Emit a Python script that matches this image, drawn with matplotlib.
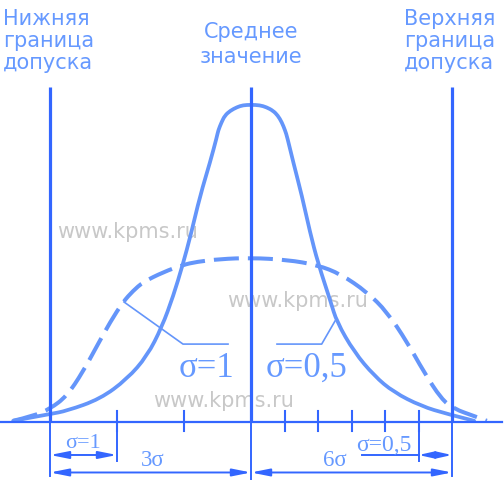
import matplotlib
matplotlib.use("Agg")
import matplotlib.pyplot as plt
from matplotlib.path import Path
from matplotlib.patches import PathPatch
import numpy as np

plt.rcParams['lines.scale_dashes'] = False

# ---------------- data (x in units of sigma=1, y = density) ----------------
LIMITS_X = [-3.0, 3.0]          # lower / upper tolerance limits
MEAN_X = 0.0
TICKS_S1 = [-2.0, -1.0]          # sigma = 1 steps
TICKS_S05 = [0.5, 1.0, 1.5, 2.0, 2.5]  # sigma = 0.5 steps

# solid curve: sigma = 0.5 (traced)
S05_X = [-3.55, -3.00, -2.75, -2.25, -1.85, -1.55, -1.33, -1.16, -1.02, -0.90,
         -0.76, -0.61, -0.51, -0.49, -0.44, -0.39, -0.31, -0.21, -0.12, 0.00,
         0.13, 0.23, 0.33, 0.40, 0.46, 0.51, 0.54, 0.63, 0.76, 0.88,
         1.00, 1.19, 1.28, 1.54, 1.84, 2.13, 2.54, 2.93, 3.33]
S05_Y = [0.003, 0.020, 0.028, 0.058, 0.108, 0.166, 0.239, 0.317, 0.395, 0.470,
         0.569, 0.654, 0.717, 0.733, 0.754, 0.771, 0.783, 0.792, 0.797, 0.798,
         0.797, 0.792, 0.783, 0.771, 0.754, 0.733, 0.717, 0.654, 0.569, 0.478,
         0.400, 0.302, 0.252, 0.176, 0.116, 0.075, 0.040, 0.020, 0.003]

# dashed curve: sigma = 1 (traced)
S1_X = [-3.55, -3.25, -3.00, -2.75, -2.51, -2.30, -2.10, -1.91, -1.76, -1.61,
        -1.31, -1.02, -0.81, -0.46, 0.00, 0.54, 0.99, 1.34, 1.73, 2.03,
        2.33, 2.58, 2.84, 3.03, 3.33, 3.52]
S1_Y = [0.003, 0.015, 0.033, 0.065, 0.126, 0.191, 0.252, 0.302, 0.330, 0.352,
        0.377, 0.395, 0.403, 0.410, 0.413, 0.408, 0.395, 0.372, 0.327, 0.277,
        0.201, 0.126, 0.058, 0.033, 0.015, 0.003]

TOP_LEFT = ["Нижняя", "граница", "допуска"]
TOP_MID = ["Среднее", "значение"]
TOP_RIGHT = ["Верхняя", "граница", "допуска"]
WATERMARK = "www.kpms.ru"
LBL_S1 = "σ=1"
LBL_S05 = "σ=0,5"
LBL_3S = "3σ"
LBL_6S = "6σ"

# ---------------- style ----------------
CURVE = '#6495fa'
LINE = '#3366ff'
TEXT = '#6699ff'
GRAY = '#c8c8c8'


def smooth_path(xs, ys):
    """Quadratic B-spline path: traced points as control points."""
    pts = np.column_stack([xs, ys])
    verts = [pts[0]]
    codes = [Path.MOVETO]
    for i in range(1, len(pts) - 1):
        mid = (pts[i] + pts[i + 1]) / 2 if i < len(pts) - 2 else pts[i + 1]
        verts += [pts[i], mid]
        codes += [Path.CURVE3, Path.CURVE3]
    return Path(verts, codes)


fig = plt.figure(figsize=(5.04, 4.81), dpi=100)
ax = fig.add_axes([0, 0, 1, 1])
ax.set_xlim(-251 / 67, 253 / 67)
ax.set_ylim(-58 / 397.5, 423 / 397.5)
ax.axis('off')

# watermarks
wm = dict(family='DejaVu Sans', fontsize=15, color=GRAY, va='baseline', ha='left', zorder=0)
ax.text(-2.896, 0.465, WATERMARK, **wm)
ax.text(-0.358, 0.292, WATERMARK, **wm)
ax.text(-1.463, 0.041, WATERMARK, **wm)

# curves
ax.add_patch(PathPatch(smooth_path(S05_X, S05_Y), fill=False, edgecolor=CURVE, lw=2.7,
                       joinstyle='round', capstyle='round', zorder=2))
ax.add_patch(PathPatch(smooth_path(S1_X, S1_Y), fill=False, edgecolor=CURVE, lw=2.9,
                       linestyle=(0, (18, 6.5)), capstyle='butt', zorder=2))

# axis line
ax.plot([-3.75, 3.75], [0, 0], color=LINE, lw=1.6, zorder=3)

# tolerance limits and mean
top = 0.843
for x in LIMITS_X + [MEAN_X]:
    ax.plot([x, x], [0, top], color=LINE, lw=2.3, zorder=4, solid_capstyle='butt')
for x in LIMITS_X:
    ax.plot([x, x], [0, -0.136], color=LINE, lw=1.4, zorder=4)
ax.plot([MEAN_X, MEAN_X], [0, -0.15], color=LINE, lw=1.4, zorder=4)

# ticks
for x in TICKS_S1 + TICKS_S05:
    ax.plot([x, x], [0.028, -0.023], color=LINE, lw=1.5, zorder=3)
for x in [TICKS_S1[0], TICKS_S05[-1]]:
    ax.plot([x, x], [0, -0.098], color=LINE, lw=1.4, zorder=3)

# dimension arrows
ap = dict(arrowstyle='<|-|>,head_length=1.1,head_width=0.22', mutation_scale=10,
          lw=1.4, color=LINE, shrinkA=0, shrinkB=0)
ax.annotate('', xy=(LIMITS_X[0], -0.083), xytext=(TICKS_S1[0], -0.083), arrowprops=ap)
ax.annotate('', xy=(LIMITS_X[0], -0.127), xytext=(MEAN_X, -0.127), arrowprops=ap)
ax.annotate('', xy=(MEAN_X, -0.127), xytext=(LIMITS_X[1], -0.127), arrowprops=ap)
ap2 = dict(ap, arrowstyle='<|-|>,head_length=0.9,head_width=0.2')
ax.annotate('', xy=(TICKS_S05[-1], -0.083), xytext=(LIMITS_X[1], -0.083), arrowprops=ap2)
ax.plot([1.66, TICKS_S05[-1]], [-0.083, -0.083], color=LINE, lw=1.4)

# leader lines
ax.plot([-1.896, -1.015, -0.343], [0.302, 0.196, 0.196], color=CURVE, lw=1.2, zorder=3)
ax.plot([1.254, 1.055, 0.388], [0.254, 0.196, 0.196], color=CURVE, lw=1.2, zorder=3)

# serif labels
ser = dict(family='Liberation Serif', color=TEXT, va='baseline', ha='center', zorder=5)
ax.text(-0.657, 0.116, LBL_S1, fontsize=25, **ser)
ax.text(0.821, 0.116, LBL_S05, fontsize=25, **ser)
ax.text(-2.507, -0.064, LBL_S1, fontsize=16, **ser)
ax.text(-1.46, -0.108, LBL_3S, fontsize=16.5, **ser)
ax.text(1.254, -0.108, LBL_6S, fontsize=16.5, **ser)
ax.text(1.978, -0.070, LBL_S05, fontsize=17, **ser)

# top labels
tl = dict(family='DejaVu Sans', fontsize=15, color=TEXT, va='baseline', zorder=5)
for s, yy in zip(TOP_LEFT, [1.0013, 0.9459, 0.8906]):
    ax.text(-3.70, yy, s, ha='left', **tl)
for s, yy in zip(TOP_RIGHT, [1.0013, 0.9459, 0.8906]):
    ax.text(2.284, yy, s, ha='left', **tl)
for s, yy in zip(TOP_MID, [0.9673, 0.9057]):
    ax.text(MEAN_X, yy, s, ha='center', **tl)

fig.savefig('out.png', dpi=100)
